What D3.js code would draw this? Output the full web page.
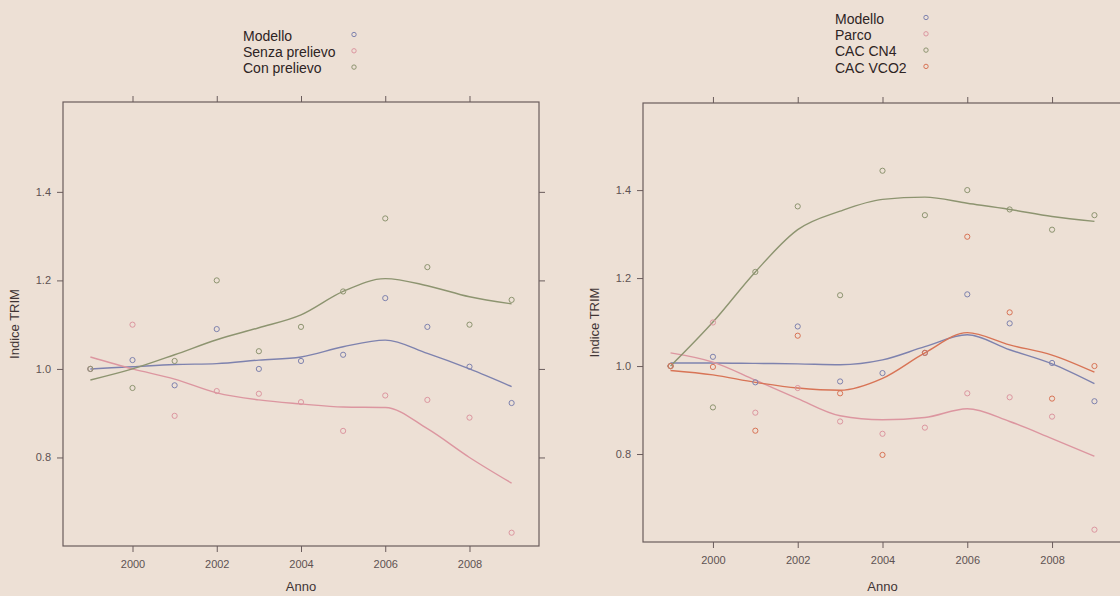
<!DOCTYPE html>
<html>
<head>
<meta charset="utf-8">
<script src="https://cdn.jsdelivr.net/npm/d3@7"></script>
<style>
  body { margin: 0; background: #ede0d5; }
  svg { display: block; font-family: "Liberation Sans", Arial, sans-serif; }
</style>
</head>
<body>
<svg id="chart" width="1120" height="596"></svg>
<script>
// anni
const anni = [1999, 2000, 2001, 2002, 2003, 2004, 2005, 2006, 2007, 2008, 2009];
const tickAnni = [2000, 2002, 2004, 2006, 2008];
const tickIndice = [0.8, 1.0, 1.2, 1.4];

// pannello sinistro: punti
const modelloSx = [1.00, 1.02, 0.963, 1.09, 1.00, 1.018, 1.032, 1.16, 1.095, 1.005, 0.923];
const senzaPrelievo = [1.00, 1.10, 0.894, 0.95, 0.944, 0.925, 0.86, 0.94, 0.93, 0.89, 0.63];
const conPrelievo = [1.00, 0.957, 1.018, 1.20, 1.04, 1.095, 1.175, 1.34, 1.23, 1.10, 1.156];

// pannello sinistro: curve lisciate
const modelloSxCurva = [1.00, 1.005, 1.01, 1.012, 1.02, 1.027, 1.05, 1.065, 1.035, 1.00, 0.96];
const senzaPrelievoCurva = [1.027, 1.00, 0.977, 0.946, 0.93, 0.921, 0.914, 0.913, 0.865, 0.80, 0.742];
const conPrelievoCurva = [0.975, 1.00, 1.032, 1.066, 1.093, 1.122, 1.175, 1.204, 1.188, 1.163, 1.147];

// pannello destro: punti
const modelloDx = [1.00, 1.021, 0.963, 1.09, 0.965, 0.984, 1.03, 1.163, 1.097, 1.007, 0.92];
const parco = [1.00, 1.099, 0.894, 0.95, 0.874, 0.846, 0.86, 0.938, 0.929, 0.885, 0.628];
const cacCN4 = [1.00, 0.906, 1.214, 1.363, 1.161, 1.444, 1.343, 1.40, 1.356, 1.31, 1.343];
const cacVCO2 = [1.00, 0.998, 0.853, 1.069, 0.938, 0.798, 1.03, 1.294, 1.122, 0.926, 1.00];

// pannello destro: curve lisciate
const modelloDxCurva = [1.007, 1.007, 1.006, 1.005, 1.003, 1.014, 1.044, 1.071, 1.037, 1.005, 0.96];
const parcoCurva = [1.03, 1.009, 0.968, 0.926, 0.887, 0.878, 0.883, 0.903, 0.874, 0.835, 0.795];
const cacCN4Curva = [1.00, 1.10, 1.214, 1.31, 1.352, 1.379, 1.384, 1.37, 1.356, 1.34, 1.329];
const cacVCO2Curva = [0.99, 0.98, 0.963, 0.95, 0.945, 0.972, 1.03, 1.076, 1.048, 1.025, 0.986];

// colori (desaturati come nella foto)
const colBlu = "#7e82ae";
const colRosa = "#dc96a0";
const colVerde = "#8d9470";
const colArancio = "#d87456";

const svg = d3.select("#chart");

function disegnaPannello(p) {
  const x = d3.scaleLinear().domain([1998.35, 2009.65]).range([p.left, p.right]);
  const y = d3.scaleLinear().domain([0.6, p.yTop]).range([p.bottom, p.top]);
  const g = svg.append("g");
  const colAsse = "#6a5c5c";

  // assi
  const sinistro = g.append("g").attr("transform", `translate(${p.left},0)`)
    .call(d3.axisLeft(y).tickValues(tickIndice).tickFormat(d3.format(".1f")).tickSize(6).tickSizeOuter(0).tickPadding(6));
  const destro = g.append("g").attr("transform", `translate(${p.right},0)`)
    .call(d3.axisRight(y).tickValues(tickIndice).tickFormat("").tickSize(6).tickSizeOuter(0));
  const sopra = g.append("g").attr("transform", `translate(0,${p.top})`)
    .call(d3.axisTop(x).tickValues(tickAnni).tickFormat("").tickSize(6).tickSizeOuter(0));
  const sotto = g.append("g").attr("transform", `translate(0,${p.bottom})`)
    .call(d3.axisBottom(x).tickValues(tickAnni).tickFormat(d3.format("d")).tickSize(6).tickSizeOuter(0).tickPadding(8));
  [sinistro, destro, sopra, sotto].forEach(a => {
    a.select(".domain").remove();
    a.selectAll("line").attr("stroke", colAsse);
    a.selectAll("text").attr("fill", "#5e5252").style("font-size", "11px");
  });

  g.append("rect")
    .attr("x", p.left).attr("y", p.top)
    .attr("width", p.right - p.left).attr("height", p.bottom - p.top)
    .attr("fill", "none").attr("stroke", colAsse).attr("stroke-width", 1.2);

  // curve
  const linea = d3.line().x((d, i) => x(anni[i])).y(d => y(d)).curve(d3.curveMonotoneX);
  p.serie.forEach(s => {
    g.append("path").datum(s.curva)
      .attr("d", linea).attr("fill", "none")
      .attr("stroke", s.colore).attr("stroke-width", 1.4);
  });

  // punti
  p.serie.forEach(s => {
    g.selectAll(null).data(s.valori).enter().append("circle")
      .attr("cx", (d, i) => x(anni[i])).attr("cy", d => y(d))
      .attr("r", 2.6).attr("fill", "none")
      .attr("stroke", s.colore).attr("stroke-width", 1);
  });

  // etichette assi
  g.append("text")
    .attr("transform", `translate(${p.ylabX},${(p.top + p.bottom) / 2}) rotate(-90)`)
    .attr("text-anchor", "middle").attr("dominant-baseline", "middle")
    .attr("fill", "#3f3434").style("font-size", "13px").text("Indice TRIM");
  g.append("text")
    .attr("x", (p.left + p.right) / 2).attr("y", 591)
    .attr("text-anchor", "middle")
    .attr("fill", "#3f3434").style("font-size", "13px").text("Anno");

  // legenda
  p.serie.forEach((s, i) => {
    g.append("text")
      .attr("x", p.legX).attr("y", p.legY + i * 16.3)
      .attr("dominant-baseline", "middle")
      .attr("fill", "#2e2424").style("font-size", "14px").text(s.nome);
    g.append("circle")
      .attr("cx", p.legPx).attr("cy", p.legY - 2.5 + i * 16.3)
      .attr("r", 2.2).attr("fill", "none")
      .attr("stroke", s.colore).attr("stroke-width", 1);
  });
}

disegnaPannello({
  left: 63, right: 539, top: 102, bottom: 546, yTop: 1.603,
  ylabX: 16, legX: 243, legY: 37, legPx: 354,
  serie: [
    { nome: "Modello", valori: modelloSx, curva: modelloSxCurva, colore: colBlu },
    { nome: "Senza prelievo", valori: senzaPrelievo, curva: senzaPrelievoCurva, colore: colRosa },
    { nome: "Con prelievo", valori: conPrelievo, curva: conPrelievoCurva, colore: colVerde }
  ]
});

disegnaPannello({
  left: 643, right: 1122, top: 103, bottom: 542, yTop: 1.598,
  ylabX: 596, legX: 835, legY: 20, legPx: 926,
  serie: [
    { nome: "Modello", valori: modelloDx, curva: modelloDxCurva, colore: colBlu },
    { nome: "Parco", valori: parco, curva: parcoCurva, colore: colRosa },
    { nome: "CAC CN4", valori: cacCN4, curva: cacCN4Curva, colore: colVerde },
    { nome: "CAC VCO2", valori: cacVCO2, curva: cacVCO2Curva, colore: colArancio }
  ]
});
</script>
</body>
</html>
